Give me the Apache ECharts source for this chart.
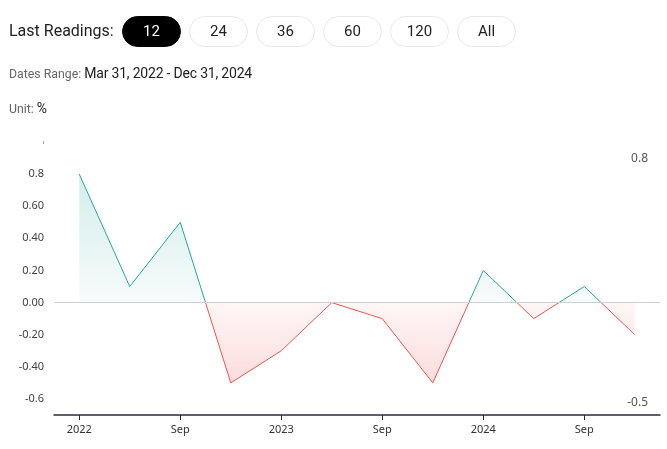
<!DOCTYPE html>
<html><head><meta charset="utf-8">
<script src="https://cdn.jsdelivr.net/npm/echarts@6/dist/echarts.min.js"></script>
<style>
html,body{margin:0;padding:0;background:#fff;width:667px;height:449px;overflow:hidden;font-family:Roboto,"Noto Sans",sans-serif;}
#chart{position:absolute;left:0;top:0;width:667px;height:449px;}
.hdr{position:absolute;color:#222;white-space:nowrap;}
.btn{position:absolute;top:16px;height:29px;width:57px;border:1px solid #e8e8e8;border-radius:16px;text-align:center;line-height:29px;font-size:15px;color:#222;background:#fff;}
.btn.on{background:#000;color:#fff;border-color:#000;}
</style></head><body>
<div id="chart"></div>
<div class="hdr" style="left:9px;top:21px;font-size:16px;">Last Readings:</div>
<div id="btns"></div>
<div class="hdr" style="left:9px;top:65px;font-size:12.3px;color:#666;">Dates Range: <span style="font-size:14px;letter-spacing:-0.2px;color:#222;">Mar 31, 2022 - Dec 31, 2024</span></div>
<div class="hdr" style="left:9px;top:100px;font-size:12.3px;color:#666;">Unit: <span style="font-size:14px;color:#222;">%</span></div>
<script>
const buttonLabels = ['12','24','36','60','120','All'];
const categories = ['2022-03-31','2022-06-30','2022-09-30','2022-12-31','2023-03-31','2023-06-30','2023-09-30','2023-12-31','2024-03-31','2024-06-30','2024-09-30','2024-12-31'];
const values = [0.8, 0.1, 0.5, -0.5, -0.3, 0.0, -0.1, -0.5, 0.2, -0.1, 0.1, -0.2];
const xTickLabels = ['2022','','Sep','','2023','','Sep','','2024','','Sep',''];
const yTickLabels = {'-6':'-0.6','-4':'-0.40','-2':'-0.20','0':'0.00','2':'0.20','4':'0.40','6':'0.60','8':'0.8','10':'{t|ı}'};

const btnHost = document.getElementById('btns');
const btnLefts = [122,189,256,323,390,457];
buttonLabels.forEach((b,i)=>{
  const d=document.createElement('div');
  d.className='btn'+(i===0?' on':'');
  d.style.left=btnLefts[i]+'px';
  d.textContent=b;
  btnHost.appendChild(d);
});

const vMax = Math.max(...values), vMin = Math.min(...values);
const zeroStop = vMax/(vMax - vMin);
const green = '#26a69a', red = '#ef5350';

const chart = echarts.init(document.getElementById('chart'), null, {renderer:'canvas'});
chart.setOption({
  animation:false,
  grid:{left:54,right:7,top:142,bottom:34},
  xAxis:{type:'category',data:categories,boundaryGap:true,
    axisLine:{show:true,onZero:false,lineStyle:{color:'#2b2b3b',width:1.5}},
    axisTick:{show:true,alignWithLabel:true,interval:(i)=>xTickLabels[i]!=='',length:5,lineStyle:{color:'#2b2b3b',width:1}},
    axisLabel:{interval:0,margin:9,fontFamily:'Noto Sans',fontSize:11,color:'#333',
      formatter:(v,i)=>xTickLabels[i]}},
  yAxis:[
    {type:'value',min:-0.7,max:1.0,interval:0.1,
      axisLine:{show:false},axisTick:{show:false},splitLine:{show:false},
      axisLabel:{margin:10,fontFamily:'Noto Sans',fontSize:11,color:'#444',
        formatter:v=>{const k=String(Math.round(v*10));return yTickLabels[k]||'';},
        rich:{t:{fontSize:6,color:'#555'}}}},
    {type:'value',position:'right',min:vMin,max:vMax,interval:(vMax-vMin),
      axisLine:{show:false},axisTick:{show:false},splitLine:{show:false},
      axisLabel:{inside:true,margin:12,fontFamily:'Noto Sans',fontSize:12,color:'#555',
        formatter:v=>Math.abs(v-vMax)<1e-9?'{a|'+vMax+'}':(Math.abs(v-vMin)<1e-9?'{b|'+vMin+'}':''),
        rich:{a:{padding:[34,0,0,0],fontSize:12,color:'#555'},b:{padding:[0,0,24,0],fontSize:12,color:'#555'}}}}
  ],
  series:[{type:'line',data:values,showSymbol:false,symbol:'none',
    lineStyle:{width:1,color:new echarts.graphic.LinearGradient(0,0,0,1,[
      {offset:0,color:green},{offset:zeroStop,color:green},
      {offset:zeroStop,color:red},{offset:1,color:red}])},
    areaStyle:{origin:0,opacity:1,color:new echarts.graphic.LinearGradient(0,0,0,1,[
      {offset:0,color:'rgba(38,166,154,0.2)'},
      {offset:zeroStop,color:'rgba(38,166,154,0.04)'},
      {offset:zeroStop,color:'rgba(239,83,80,0.05)'},
      {offset:1,color:'rgba(239,83,80,0.2)'}])},
    markLine:{silent:true,symbol:'none',label:{show:false},
      lineStyle:{color:'#d0d0d0',type:'solid',width:1},data:[{yAxis:0}]}
  }]
});
</script>
</body></html>
